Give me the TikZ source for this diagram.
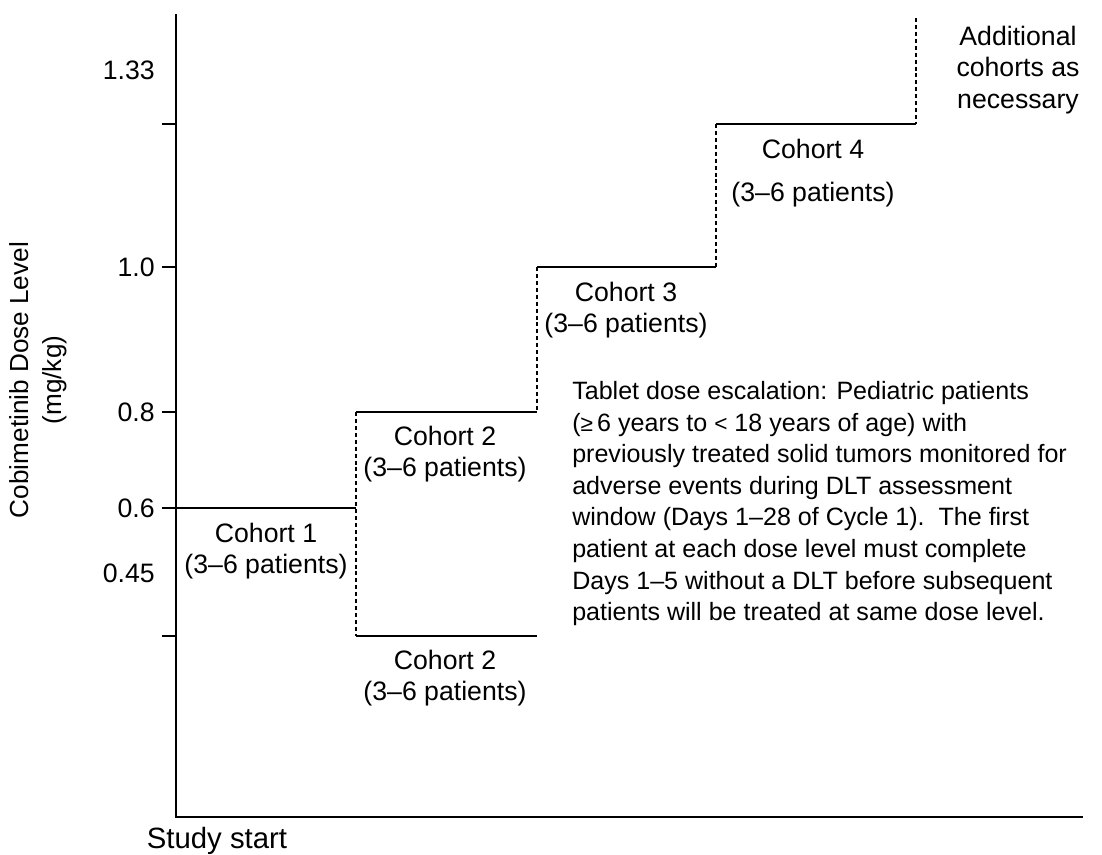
\documentclass[tikz,border=0pt]{standalone}
\usepackage{fontspec}
\setmainfont{Liberation Sans}
\begin{document}
\begin{tikzpicture}[x=0.75pt,y=-0.75pt,
  axis/.style={line width=1.5pt},
  stepline/.style={line width=1.2pt},
  riser/.style={line width=1.2pt, dash pattern=on 3pt off 2.2pt},
  lbl/.style={font=\fontsize{20}{23.4}\selectfont, inner sep=0pt, align=center},
  paralbl/.style={font=\fontsize{18.8}{23.7}\selectfont, inner sep=0pt, align=left},
  ticklbl/.style={lbl, anchor=east}]
\useasboundingbox (0,0) rectangle (1102,855);
% axes
\coordinate (ytop) at (176,14);
\coordinate (origin) at (176,817);
\coordinate (xend) at (1083,817);
\draw[axis] (ytop) -- (origin) -- (xend);
% ticks
\foreach \n/\y in {t133/124, t10/267, t08/412, t06/508, t045/636} {
  \coordinate (\n a) at (176,\y);
  \coordinate (\n b) at (162,\y);
  \draw[axis] (\n a) -- (\n b);
}
% tick labels
\node[ticklbl] (l133) at (155,70) {1.33};
\node[ticklbl] (l10) at (155,267) {1.0};
\node[ticklbl] (l08) at (155,412) {0.8};
\node[ticklbl] (l06) at (155,508) {0.6};
\node[ticklbl] (l045) at (155,573) {0.45};
% axis titles
\node[lbl, font=\fontsize{19.6}{24.6}\selectfont, rotate=90] (ytitle) at (38,380) {Cobimetinib Dose Level\\(mg/kg)};
\node[lbl, font=\fontsize{22}{26}\selectfont] (xtitle) at (217,841) {Study start};
% steps
\coordinate (c1b) at (356,508);
\coordinate (c2a) at (356,412);
\coordinate (c2b) at (537,412);
\coordinate (c2la) at (356,636);
\coordinate (c2lb) at (537,636);
\coordinate (c3a) at (537,267);
\coordinate (c3b) at (716,267);
\coordinate (c4a) at (716,124);
\coordinate (c4b) at (916,124);
\coordinate (c5) at (916,18);
\draw[stepline] (t06a) -- (c1b);
\draw[stepline] (c2a) -- (c2b);
\draw[stepline] (c2la) -- (c2lb);
\draw[stepline] (c3a) -- (c3b);
\draw[stepline] (c4a) -- (c4b);
\draw[riser] (c2a) -- (c2la);
\draw[riser] (c3a) -- (c2b);
\draw[riser] (c4a) -- (c3b);
\draw[riser] (c5) -- (c4b);
% cohort labels
\node[lbl] (co1) at (266,551) {Cohort 1\\(3–6 patients)};
\node[lbl] (co2u) at (445,454) {Cohort 2\\(3–6 patients)};
\node[lbl] (co2l) at (445,678) {Cohort 2\\(3–6 patients)};
\node[lbl] (co3) at (626,310) {Cohort 3\\(3–6 patients)};
\node[lbl, font=\fontsize{20}{32}\selectfont] (co4) at (813,173) {Cohort 4\\(3–6 patients)};
\node[lbl] (more) at (1018,70) {Additional\\cohorts as\\necessary};
% description
\node[paralbl, anchor=north west] (desc) at (572,381) {Tablet dose escalation: Pediatric patients\\
({\fontsize{17}{20}\selectfont≥}\,6 years to {\fontsize{17}{20}\selectfont<} 18 years of age) with\\
previously treated solid tumors monitored for\\
adverse events during DLT assessment\\
window (Days 1–28 of Cycle 1).\ \ The first\\
patient at each dose level must complete\\
Days 1–5 without a DLT before subsequent\\
patients will be treated at same dose level.};
\end{tikzpicture}
\end{document}
